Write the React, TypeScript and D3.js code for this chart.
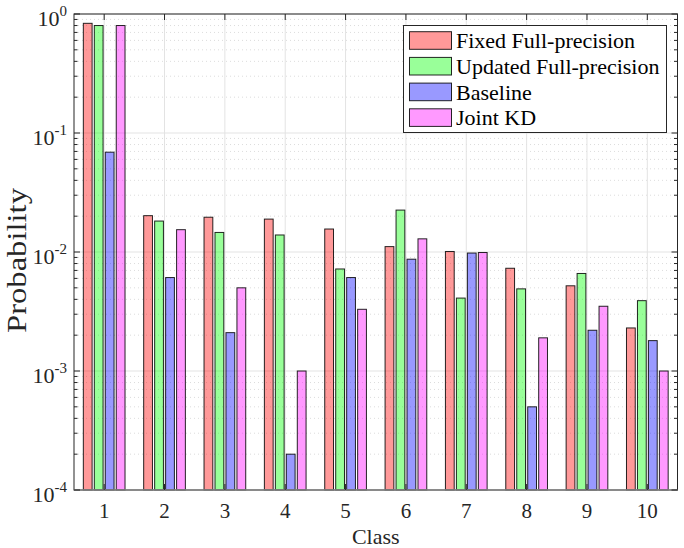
import React from "react";
import * as d3 from "d3";

const classes = [1, 2, 3, 4, 5, 6, 7, 8, 9, 10];
const seriesNames = ["Fixed Full-precision", "Updated Full-precision", "Baseline", "Joint KD"];
const fixedFP = [0.835, 0.0202, 0.0196, 0.0189, 0.0156, 0.0111, 0.0101, 0.0073, 0.0052, 0.0023];
const updatedFP = [0.80, 0.0182, 0.0146, 0.0139, 0.0072, 0.0225, 0.0041, 0.0049, 0.0066, 0.0039];
const baseline = [0.069, 0.0061, 0.0021, 0.0002, 0.0061, 0.0087, 0.0098, 0.0005, 0.0022, 0.0018];
const jointKD = [0.80, 0.0154, 0.0050, 0.0010, 0.0033, 0.0129, 0.0099, 0.0019, 0.0035, 0.0010];
const yTickExps = [0, -1, -2, -3, -4];
const colors = ["#ff0000", "#00ff00", "#0000ff", "#ff00ff"];

const W = 684, H = 548;
const M = { left: 74, right: 677.5, top: 14, bottom: 490 };
const FONT = "'Liberation Serif', 'Times New Roman', serif";

export default function App() {
  const series = [fixedFP, updatedFP, baseline, jointKD];
  const x = d3.scaleLinear().domain([0.5, 10.5]).range([M.left, M.right]);
  const y = d3.scaleLog().domain([1e-4, 1]).range([M.bottom, M.top]);
  const n = series.length;
  const groupW = Math.min(0.8, n / (n + 1.5));
  const slot = groupW / n;
  const barW = slot * 0.8;

  const minorVals: number[] = [];
  for (let e = -4; e < 0; e++) {
    for (let k = 2; k <= 9; k++) minorVals.push(k * Math.pow(10, e));
  }
  const majorVals = yTickExps.map((e) => Math.pow(10, e));

  const legX = 403.5, legY = 25.5, legW = 263, legH = 107;
  const rowH = 25.7;

  return (
    <svg width={W} height={H} style={{ position: "absolute", left: 0, top: 0, background: "#fff" }}>
      <rect x={0} y={0} width={W} height={H} fill="#fff" />
      {/* grid */}
      {minorVals.map((v, i) => (
        <line key={"mg" + i} x1={M.left} x2={M.right} y1={y(v)} y2={y(v)}
          stroke="#cdcdcd" strokeWidth={0.7} strokeDasharray="1,3" />
      ))}
      {majorVals.map((v, i) => (
        <line key={"Mg" + i} x1={M.left} x2={M.right} y1={y(v)} y2={y(v)}
          stroke="#e3e3e3" strokeWidth={1} />
      ))}
      {classes.map((c) => (
        <line key={"vg" + c} x1={x(c)} x2={x(c)} y1={M.top} y2={M.bottom}
          stroke="#e3e3e3" strokeWidth={1} />
      ))}
      {/* bars */}
      {series.map((s, si) =>
        s.map((v, ci) => {
          const cx = x(classes[ci] + (si - (n - 1) / 2) * slot);
          const w = x(barW) - x(0);
          return (
            <rect key={"b" + si + "_" + ci} x={cx - w / 2} y={y(v)} width={w} height={M.bottom - y(v)}
              fill={colors[si]} fillOpacity={0.4} stroke="#000" strokeOpacity={0.85} strokeWidth={1} />
          );
        })
      )}
      {/* axes box */}
      <rect x={M.left} y={M.top} width={M.right - M.left} height={M.bottom - M.top}
        fill="none" stroke="#262626" strokeWidth={1} />
      <line x1={M.left} x2={M.right} y1={M.bottom} y2={M.bottom} stroke="#8a8a8a" strokeWidth={1.5} />
      {/* y ticks */}
      {majorVals.map((v, i) => (
        <g key={"yt" + i}>
          <line x1={M.left} x2={M.left + 6} y1={y(v)} y2={y(v)} stroke="#262626" />
          <line x1={M.right} x2={M.right - 6} y1={y(v)} y2={y(v)} stroke="#262626" />
        </g>
      ))}
      {minorVals.map((v, i) => (
        <g key={"ymt" + i}>
          <line x1={M.left} x2={M.left + 3.5} y1={y(v)} y2={y(v)} stroke="#262626" />
          <line x1={M.right} x2={M.right - 3.5} y1={y(v)} y2={y(v)} stroke="#262626" />
        </g>
      ))}
      {/* x ticks */}
      {classes.map((c) => (
        <g key={"xt" + c}>
          <line x1={x(c)} x2={x(c)} y1={M.bottom} y2={M.bottom - 6} stroke="#262626" />
          <line x1={x(c)} x2={x(c)} y1={M.top} y2={M.top + 6} stroke="#262626" />
          <text x={x(c)} y={518} textAnchor="middle" fontFamily={FONT} fontSize={21} fill="#262626">{c}</text>
        </g>
      ))}
      {/* y tick labels */}
      {yTickExps.map((e, i) => {
        const yy = y(Math.pow(10, e)) + 11.5;
        return (
          <text key={"yl" + i} x={67} y={yy} textAnchor="end" fontFamily={FONT} fontSize={22} fill="#262626">
            10<tspan dy={-9.5} fontSize={15}>{e}</tspan>
          </text>
        );
      })}
      {/* axis titles */}
      <text x={(M.left + M.right) / 2} y={544} textAnchor="middle" fontFamily={FONT} fontSize={22} fill="#262626">Class</text>
      <text transform={`translate(25.5,260.5) rotate(-90)`} textAnchor="middle"
        fontFamily={FONT} fontSize={27} textLength={145} lengthAdjust="spacingAndGlyphs" fill="#262626">Probability</text>
      {/* legend */}
      <rect x={legX} y={legY} width={legW} height={legH} fill="#fff" stroke="#262626" strokeWidth={1} />
      {seriesNames.map((name, i) => (
        <g key={"lg" + i}>
          <rect x={409.5} y={31.7 + i * rowH} width={42} height={17.6}
            fill={colors[i]} fillOpacity={0.4} stroke="#000" strokeOpacity={0.85} />
          <text x={456} y={48.3 + i * rowH} fontFamily={FONT} fontSize={22} fill="#000">{name}</text>
        </g>
      ))}
    </svg>
  );
}
